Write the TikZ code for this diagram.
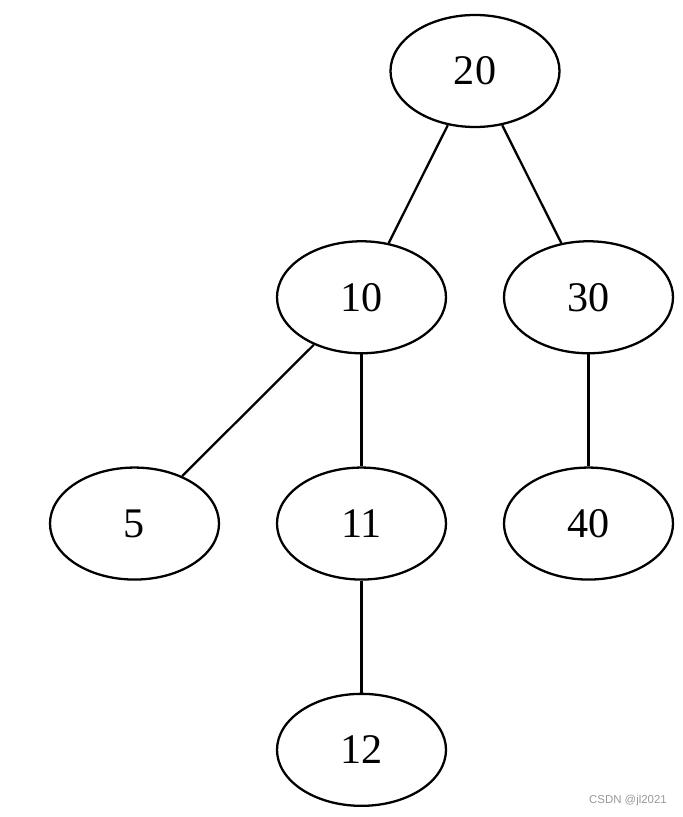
\documentclass[tikz,border=0pt]{standalone}
\usepackage{fontspec}
\setmainfont{Liberation Serif}
\newfontfamily\wmfont{Liberation Sans}
\usetikzlibrary{shapes.geometric,positioning}

\begin{document}
\begin{tikzpicture}[node distance=2.24cm,
    tnode/.style={ellipse,draw,line width=1.3pt,minimum width=3.38cm,minimum height=2.24cm,inner sep=0pt,font=\fontsize{24}{28}\selectfont},
    edge/.style={line width=1.3pt}]
    \useasboundingbox (0,0) rectangle (13.64,16.34);
    \node[tnode] (n20) at (9.5,14.92) {20};
    \node[tnode,below=of n20,xshift=-2.27cm] (n10) {10};
    \node[tnode,below=of n20,xshift=2.27cm] (n30) {30};
    \node[tnode,below=of n10,xshift=-4.54cm] (n5) {5};
    \node[tnode,below=of n10] (n11) {11};
    \node[tnode,below=of n30] (n40) {40};
    \node[tnode,below=of n11] (n12) {12};
    \draw[edge] (n20) -- (n10); \draw[edge] (n20) -- (n30);
    \draw[edge] (n10) -- (n5); \draw[edge] (n10) -- (n11);
    \draw[edge] (n30) -- (n40); \draw[edge] (n11) -- (n12);
    \node[font=\wmfont\fontsize{6.5}{8}\selectfont,text=black!40] (wm) at (12.56,0.32) {CSDN @jl2021};
\end{tikzpicture}
\end{document}
